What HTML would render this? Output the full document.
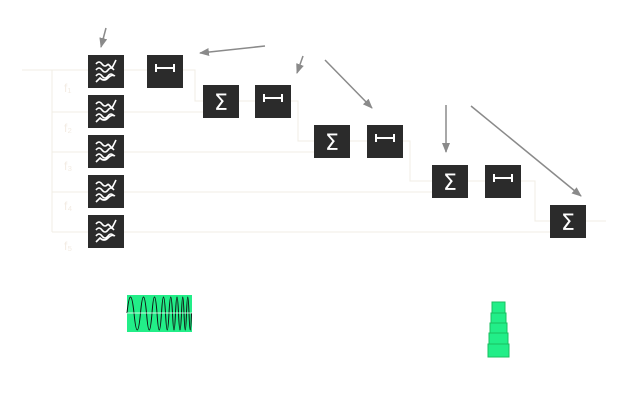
<!DOCTYPE html>
<html><head><style>
body{margin:0;background:#fff;width:640px;height:400px;overflow:hidden;font-family:"Liberation Sans",sans-serif}
</style></head><body>
<svg width="640" height="400" viewBox="0 0 640 400" xmlns="http://www.w3.org/2000/svg">
<defs>
<marker id="a" markerWidth="10" markerHeight="8" refX="9" refY="4" orient="auto" markerUnits="userSpaceOnUse"><path d="M0,0 L10,4 L0,8 Z" fill="#8a8a8a"/></marker>
<g id="flt"><rect width="36" height="33" fill="#2b2b2b"/>
<g fill="none" stroke="#fff" stroke-width="1.6"><path d="M8,9 q3,-4 6,0 t6,0 M20,9 l4,4 l4,-8"/><path d="M8,15 q3,-4 6,0 t6,0 t6,0"/><path d="M8,21 q3,-4 6,0 t6,0 t6,0"/><path d="M8,27 l4,-4 q4,4 8,0 q4,-4 7,-2"/></g></g>
<g id="dly"><rect width="36" height="33" fill="#2b2b2b"/><path d="M9,9v8M27,9v8M9,13h18" stroke="#fff" stroke-width="2"/></g>
<g id="sum"><rect width="36" height="33" fill="#2b2b2b"/><text x="18" y="25" fill="#fff" font-size="22" text-anchor="middle" font-family="DejaVu Sans">Σ</text></g>
</defs>
<g stroke="#f0ede4" fill="none" stroke-width="1">
<path d="M22,70 H88 M52,70 V232 M52,112 H88 M52,152 H88 M52,192 H88 M52,232 H88"/>
<path d="M124,70 H147 M183,70 H195 V101 H203 M124,112 H203 M239,101 H255 M291,101 H298 V141 H314 M124,152 H314 M350,141 H367 M403,141 H410 V181 H432 M124,192 H432 M468,181 H485 M521,181 H535 V221 H550 M124,232 H550 M586,221 H606"/>
</g>
<g fill="#f3ece4" font-size="12"><text x="64" y="92">f₁</text><text x="64" y="132">f₂</text><text x="64" y="170">f₃</text><text x="64" y="210">f₄</text><text x="64" y="250">f₅</text></g>
<use href="#flt" x="88" y="55"/><use href="#flt" x="88" y="95"/><use href="#flt" x="88" y="135"/><use href="#flt" x="88" y="175"/><use href="#flt" x="88" y="215"/>
<use href="#dly" x="147" y="55"/><use href="#sum" x="203" y="85"/><use href="#dly" x="255" y="85"/>
<use href="#sum" x="314" y="125"/><use href="#dly" x="367" y="125"/>
<use href="#sum" x="432" y="165"/><use href="#dly" x="485" y="165"/><use href="#sum" x="550" y="205"/>
<g stroke="#8a8a8a" stroke-width="1.5" marker-end="url(#a)">
<line x1="106" y1="28" x2="101" y2="47"/><line x1="265" y1="46" x2="200" y2="53"/><line x1="303" y1="56" x2="297" y2="73"/><line x1="325" y1="60" x2="372" y2="108"/><line x1="446" y1="105" x2="446" y2="152"/><line x1="471" y1="106" x2="581" y2="196"/>
</g>
<rect x="127" y="295" width="65" height="37" fill="#22ee88"/>
<path d="M127,313 Q130.5,281 134,313 Q137.25,347 140.5,313 Q143.5,281 146.5,313 Q149.25,347 152,313 Q154.5,281 157,313 Q159.25,347 161.5,313 Q163.5,281 165.5,313 Q167.25,347 169,313 Q170.75,281 172.5,313 Q174,347 175.5,313 Q177,281 178.5,313 Q180,347 181.5,313 Q182.75,281 184,313 Q185.25,347 186.5,313 Q187.75,281 189,313 Q190.25,347 191.5,313" fill="none" stroke="#111" stroke-width="1"/>
<line x1="127" y1="313" x2="192" y2="313" stroke="#fff" stroke-width="0.8"/>
<g fill="#22ee88" stroke="#19c060" stroke-width="1">
<rect x="492" y="302" width="13" height="11"/><rect x="491" y="313" width="15" height="10"/><rect x="490" y="323" width="17" height="10"/><rect x="489" y="333" width="19" height="11"/><rect x="488" y="344" width="21" height="13"/></g>
</svg>
</body></html>
